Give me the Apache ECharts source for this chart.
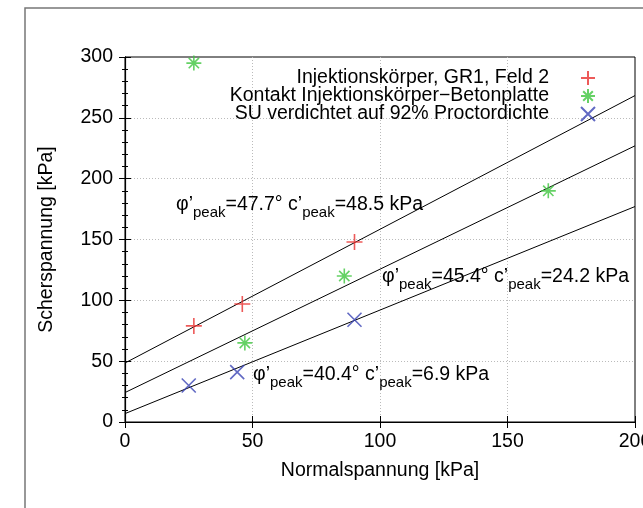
<!DOCTYPE html>
<html lang="de">
<head>
    <meta charset="UTF-8">
    <title>Scherversuche</title>
    <style>
        html, body { margin: 0; padding: 0; background: #fff; }
        #chart { width: 643px; height: 508px; }
    </style>
</head>
<body>
<div id="chart"></div>

<script src="https://cdn.jsdelivr.net/npm/echarts@6.0.0/dist/echarts.min.js"></script>
<script>
    // Messpunkte [Normalspannung, Scherspannung] in kPa
    let gr1Punkte = [[27, 79], [46, 97], [90, 148]];
    let kontaktPunkte = [[27, 295], [47, 65], [86, 120], [166, 190]];
    let suPunkte = [[25, 30], [44, 41], [90, 84]];

    // Ausgleichsgeraden (Anfangs- und Endpunkt)
    let gr1Gerade = [[0, 48.5], [200, 268.3]];
    let kontaktGerade = [[0, 24.2], [200, 227.0]];
    let suGerade = [[0, 6.9], [200, 177.1]];

    let serienNamen = [
        'Injektionskörper, GR1, Feld 2',
        'Kontakt Injektionskörper\u2212Betonplatte',
        'SU verdichtet auf 92% Proctordichte'
    ];
    let farben = ['#e8312f', '#3fc63f', '#3a44b4'];

    let xTicks = [0, 50, 100, 150, 200];
    let yTicks = [0, 50, 100, 150, 200, 250, 300];

    const font = 'Liberation Sans, Arial, Helvetica, sans-serif';
    const fs = 19.5;

    const plus = 'path://M0,8L16,8M8,0L8,16';
    const kreuz = 'path://M0,0L16,16M16,0L0,16';
    const stern = 'path://M0,8L16,8M8,0L8,16M2.5,2.5L13.5,13.5M13.5,2.5L2.5,13.5';

    let chart = echarts.init(document.getElementById('chart'));

    function punktSerie(name, data, symbol, size, farbe) {
        return {
            name: name,
            type: 'scatter',
            data: data,
            symbol: symbol,
            symbolSize: size,
            symbolKeepAspect: true,
            z: 5,
            itemStyle: {
                color: 'transparent',
                borderColor: farbe,
                borderWidth: 1.6
            }
        };
    }

    function gerade(data) {
        return {
            type: 'line',
            data: data,
            showSymbol: false,
            symbol: 'none',
            silent: true,
            z: 3,
            lineStyle: { color: '#000', width: 1 }
        };
    }

    function anmerkung(x, y, phi, c) {
        return {
            type: 'text',
            x: x,
            y: y,
            z: 10,
            style: {
                text: '{a|\u03c6\u2019}{s|peak}{a|=' + phi + '\u00b0 c\u2019}{s|peak}{a|=' + c + ' kPa}',
                fill: '#000',
                verticalAlign: 'middle',
                rich: {
                    a: { fontFamily: font, fontSize: fs, lineHeight: 21, verticalAlign: 'bottom', padding: [0, 0, 6, 0], fill: '#000' },
                    s: { fontFamily: font, fontSize: 15, lineHeight: 17, verticalAlign: 'bottom', fill: '#000' }
                }
            }
        };
    }

    let option = {
        animation: false,
        textStyle: { fontFamily: font },
        grid: {
            left: 125, right: 8, top: 57, bottom: 86,
            outerBoundsMode: 'none',
            show: true, borderColor: '#000', borderWidth: 1
        },
        legend: {
            orient: 'vertical',
            right: 42,
            top: 63,
            align: 'right',
            itemWidth: 68,
            itemHeight: 14,
            itemGap: -2,
            selectedMode: false,
            data: serienNamen,
            textStyle: { fontFamily: font, fontSize: fs, lineHeight: 18, color: '#000' }
        },
        xAxis: [{
            type: 'value',
            min: xTicks[0],
            max: xTicks[xTicks.length - 1],
            interval: 50,
            name: 'Normalspannung [kPa]',
            nameLocation: 'middle',
            nameGap: 39,
            nameTextStyle: { fontSize: fs, color: '#000' },
            axisLine: { show: true, lineStyle: { color: '#000', width: 1.2 } },
            axisTick: { show: true, inside: true, length: 6, lineStyle: { color: '#000' } },
            axisLabel: { fontSize: fs, color: '#000', margin: 10 },
            splitLine: { show: true, showMinLine: false, showMaxLine: false, lineStyle: { color: '#bbb', type: [1, 2] } }
        }, {
            type: 'value',
            position: 'top',
            min: xTicks[0],
            max: xTicks[xTicks.length - 1],
            interval: 50,
            axisLine: { show: true, lineStyle: { color: '#000' } },
            axisTick: { show: true, inside: true, length: 6, lineStyle: { color: '#000' } },
            axisLabel: { show: false },
            splitLine: { show: false }
        }],
        yAxis: [{
            type: 'value',
            min: yTicks[0],
            max: yTicks[yTicks.length - 1],
            interval: 50,
            name: 'Scherspannung [kPa]',
            nameLocation: 'middle',
            nameGap: 68,
            nameTextStyle: { fontSize: fs, color: '#000' },
            axisLine: { show: true, lineStyle: { color: '#000', width: 1.2 } },
            axisTick: { show: true, inside: true, length: 6, lineStyle: { color: '#000' } },
            minorTick: { show: true, splitNumber: 5, length: 3, lineStyle: { color: '#000' } },
            axisLabel: { fontSize: fs, color: '#000', margin: 12 },
            splitLine: { show: true, showMinLine: false, showMaxLine: false, lineStyle: { color: '#bbb', type: [1, 2] } }
        }, {
            type: 'value',
            position: 'right',
            min: yTicks[0],
            max: yTicks[yTicks.length - 1],
            interval: 50,
            axisLine: { show: true, lineStyle: { color: '#000' } },
            axisTick: { show: true, inside: true, length: 6, lineStyle: { color: '#000' } },
            minorTick: { show: true, splitNumber: 5, length: 3, lineStyle: { color: '#000' } },
            axisLabel: { show: false },
            splitLine: { show: false }
        }],
        series: [
            gerade(gr1Gerade),
            gerade(kontaktGerade),
            gerade(suGerade),
            punktSerie(serienNamen[0], gr1Punkte, plus, 16, farben[0]),
            punktSerie(serienNamen[1], kontaktPunkte, stern, 15, farben[1]),
            punktSerie(serienNamen[2], suPunkte, kreuz, 14, farben[2])
        ],
        graphic: [
            {
                type: 'rect',
                silent: true,
                shape: { x: 25, y: 8, width: 700, height: 600 },
                style: { fill: 'none', stroke: '#777', lineWidth: 1.5 }
            },
            anmerkung(176, 210, '47.7', '48.5'),
            anmerkung(382, 282, '45.4', '24.2'),
            anmerkung(253, 380, '40.4', '6.9')
        ]
    };

    chart.setOption(option);
</script>
</body>
</html>
